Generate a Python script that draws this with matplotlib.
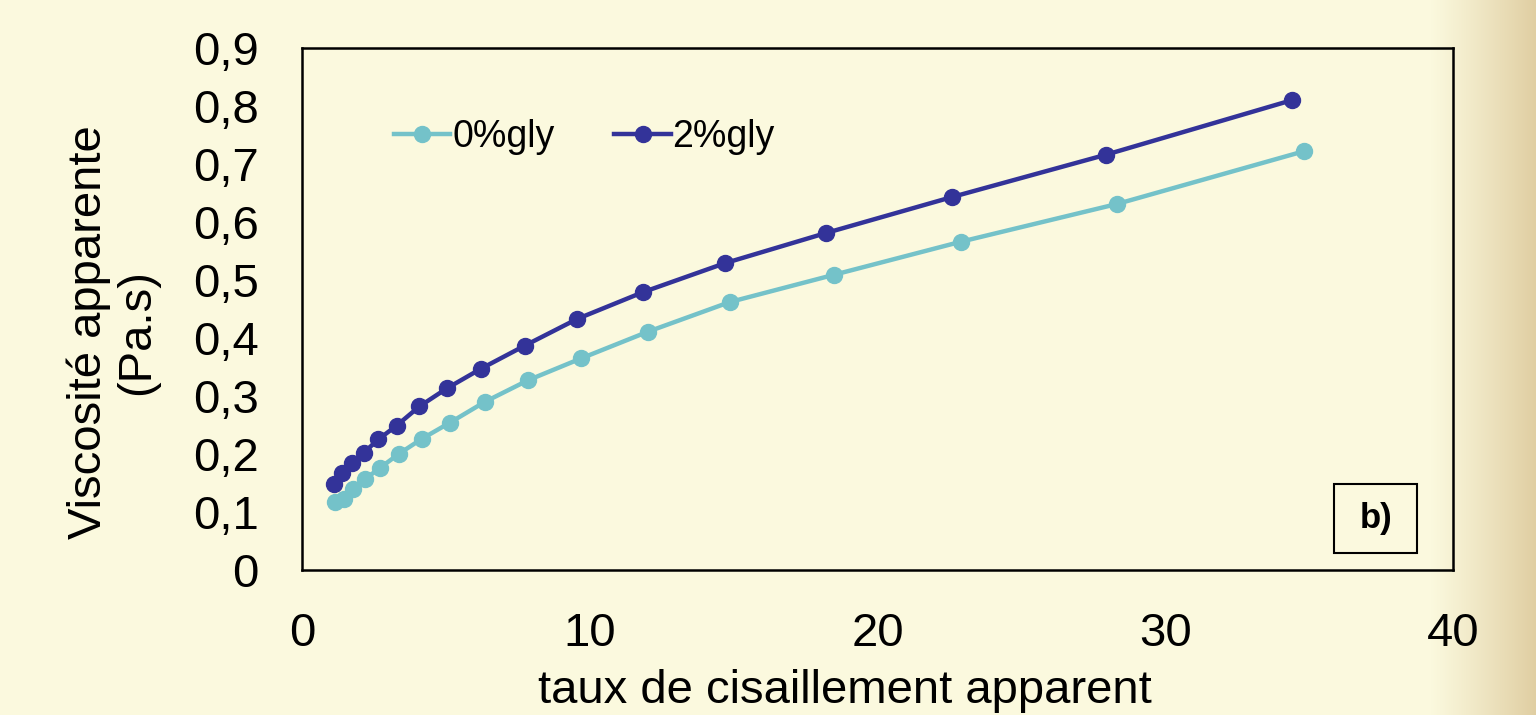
import numpy as np
import matplotlib
matplotlib.use("Agg")
import matplotlib.pyplot as plt
from matplotlib.patches import Rectangle
from matplotlib.ticker import FuncFormatter

plt.rcParams['font.family'] = ['Liberation Sans', 'DejaVu Sans']

# Data
x_0gly = [1.15, 1.46, 1.78, 2.20, 2.71, 3.36, 4.16, 5.14, 6.36, 7.85, 9.71, 12.03,
          14.87, 18.49, 22.90, 28.32, 34.82]
y_0gly = [0.117, 0.122, 0.139, 0.157, 0.176, 0.200, 0.226, 0.254, 0.290, 0.327, 0.365,
          0.411, 0.462, 0.509, 0.566, 0.631, 0.722]
x_2gly = [1.12, 1.40, 1.73, 2.14, 2.65, 3.29, 4.08, 5.03, 6.22, 7.75, 9.57, 11.85,
          14.70, 18.21, 22.59, 27.94, 34.40]
y_2gly = [0.149, 0.167, 0.184, 0.202, 0.225, 0.249, 0.282, 0.313, 0.347, 0.387, 0.433,
          0.479, 0.529, 0.581, 0.643, 0.716, 0.810]
labels = ['0%gly', '2%gly']
x_ticks = [0, 10, 20, 30, 40]
y_ticks = [0, 0.1, 0.2, 0.3, 0.4, 0.5, 0.6, 0.7, 0.8, 0.9]

fig = plt.figure(figsize=(15.36, 7.15), dpi=100)

# background gradient
bg = fig.add_axes([0, 0, 1, 1], zorder=-10)
W = 1536
xs = np.arange(W)
base = np.array([251, 249, 222]) / 255.0
tan = np.array([224, 206, 162]) / 255.0
t = np.clip((xs - 1430) / (W - 1430), 0, 1) ** 1.1
cols = base[None, :] * (1 - t[:, None]) + tan[None, :] * t[:, None]
bg.imshow(cols[None, :, :], aspect='auto', extent=[0, 1, 0, 1])
bg.set_axis_off()

ax = fig.add_axes([0.1966, 0.2028, 0.7494, 0.7301])
ax.patch.set_alpha(0)

c0 = '#74C2C9'
c2 = '#333399'
ax.plot(x_0gly, y_0gly, '-o', color=c0, lw=3.2, ms=11.5, label=labels[0])
ax.plot(x_2gly, y_2gly, '-o', color=c2, lw=3.2, ms=11.5, label=labels[1])

ax.set_xlim(0, 40)
ax.set_ylim(0, 0.9)
ax.set_xticks(x_ticks)
ax.set_yticks(y_ticks)
ax.yaxis.set_major_formatter(FuncFormatter(lambda v, p: ('%.1f' % v).replace('.', ',') if v != 0 else '0'))
ax.tick_params(axis='both', length=0, labelsize=34)
ax.tick_params(axis='x', pad=30)
ax.tick_params(axis='y', pad=31)
for s in ax.spines.values():
    s.set_linewidth(1.8)
    s.set_color('black')

ax.set_xlabel('taux de cisaillement apparent', fontsize=34)
ax.xaxis.set_label_coords(0.4718, -0.19)
ax.set_ylabel('Viscosité apparente\n(Pa.s)', fontsize=34, linespacing=1.12)
ax.yaxis.set_label_coords(-0.124, 0.455)

leg = ax.legend(loc='upper left', bbox_to_anchor=(0.067, 0.892), ncol=2, frameon=False,
                fontsize=27, handlelength=1.5, handletextpad=0.05, columnspacing=1.6,
                borderaxespad=0)

ax.add_patch(Rectangle((0.897, 0.033), 0.072, 0.132, transform=ax.transAxes,
                       fill=False, edgecolor='black', lw=1.5))
ax.text(0.933, 0.099, 'b)', transform=ax.transAxes, ha='center', va='center',
        fontsize=25, fontweight='bold')

fig.savefig('out.png', dpi=100)
